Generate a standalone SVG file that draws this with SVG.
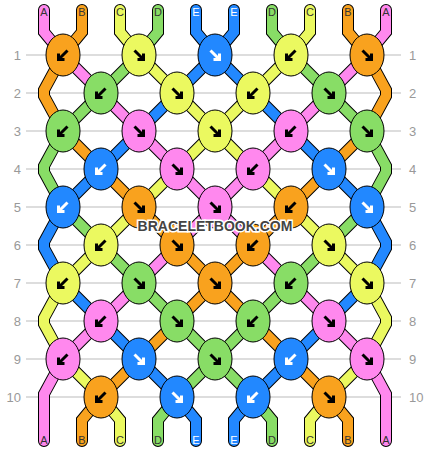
<svg xmlns="http://www.w3.org/2000/svg" xmlns:xlink="http://www.w3.org/1999/xlink" width="430" height="452" viewBox="0 0 430 452">
<style>
.grid line{stroke:#bbb;stroke-width:1}
.num{font-family:"Liberation Sans",Arial,sans-serif;font-size:13px;fill:#999}
.lt{font-family:"Liberation Sans",Arial,sans-serif;font-size:11px;fill:#333;text-anchor:middle}
.lt.w{fill:#fff}
.str{fill:none;stroke-linecap:round;stroke-linejoin:miter;stroke-miterlimit:10}
.out{stroke:#000;stroke-width:12}
.cA{stroke:#FF88EE;stroke-width:10}
.cB{stroke:#F9A21E;stroke-width:10}
.cC{stroke:#EBF960;stroke-width:10}
.cD{stroke:#88DD66;stroke-width:10}
.cE{stroke:#2288FF;stroke-width:10}
.k{stroke:#000;stroke-width:1}
.kA{fill:#FF88EE}.kB{fill:#F9A21E}.kC{fill:#EBF960}.kD{fill:#88DD66}.kE{fill:#2288FF}
.ar{fill:none;stroke:#000;stroke-width:3;stroke-linejoin:miter}
.ar.w{stroke:#fff}
.wm{font-family:"Liberation Sans",Arial,sans-serif;font-size:14px;font-weight:bold;fill:#444;stroke:#fff;stroke-width:3;paint-order:stroke;text-anchor:middle}
</style>
<defs>
<path id="sA" d="M44,10 V32 L63,55 M386,10 V32 L367,55 M63,55 L101,93 M367,55 L329,93 M101,93 L139,131 M329,93 L291,131 M139,131 L177,169 M291,131 L253,169 M177,169 L215,207 M253,169 L215,207 M215,207 L177,245 M215,207 L253,245 M177,245 L139,283 M253,245 L291,283 M139,283 L101,321 M291,283 L329,321 M101,321 L63,359 M329,321 L367,359 M63,359 L44,394 V441 M367,359 L386,394 V441"/>
<path id="sB" d="M82,10 V32 L63,55 M348,10 V32 L367,55 M63,55 L44,90 V96 L63,131 M367,55 L386,90 V96 L367,131 M63,131 L101,169 M367,131 L329,169 M101,169 L139,207 M329,169 L291,207 M139,207 L177,245 M291,207 L253,245 M177,245 L215,283 M253,245 L215,283 M215,283 L177,321 M215,283 L253,321 M177,321 L139,359 M253,321 L291,359 M139,359 L101,397 M291,359 L329,397 M101,397 L82,420 V441 M329,397 L348,420 V441"/>
<path id="sC" d="M120,10 V32 L139,55 M310,10 V32 L291,55 M139,55 L177,93 M291,55 L253,93 M177,93 L215,131 M253,93 L215,131 M215,131 L177,169 M215,131 L253,169 M177,169 L139,207 M253,169 L291,207 M139,207 L101,245 M291,207 L329,245 M101,245 L63,283 M329,245 L367,283 M63,283 L44,318 V324 L63,359 M367,283 L386,318 V324 L367,359 M63,359 L101,397 M367,359 L329,397 M101,397 L120,420 V441 M329,397 L310,420 V441"/>
<path id="sD" d="M158,10 V32 L139,55 M272,10 V32 L291,55 M139,55 L101,93 M291,55 L329,93 M101,93 L63,131 M329,93 L367,131 M63,131 L44,166 V172 L63,207 M367,131 L386,166 V172 L367,207 M63,207 L101,245 M367,207 L329,245 M101,245 L139,283 M329,245 L291,283 M139,283 L177,321 M291,283 L253,321 M177,321 L215,359 M253,321 L215,359 M215,359 L177,397 M215,359 L253,397 M177,397 L158,420 V441 M253,397 L272,420 V441"/>
<path id="sE" d="M196,10 V32 L215,55 M234,10 V32 L215,55 M215,55 L177,93 M215,55 L253,93 M177,93 L139,131 M253,93 L291,131 M139,131 L101,169 M291,131 L329,169 M101,169 L63,207 M329,169 L367,207 M63,207 L44,242 V248 L63,283 M367,207 L386,242 V248 L367,283 M63,283 L101,321 M367,283 L329,321 M101,321 L139,359 M329,321 L291,359 M139,359 L177,397 M291,359 L253,397 M177,397 L196,420 V441 M253,397 L234,420 V441"/>
<path id="se" d="M-4.5,-4.5 L3.5,3.5 M4.5,-1.5 L4.5,4.5 L-1.5,4.5"/>
<path id="sw" d="M4.5,-4.5 L-3.5,3.5 M-4.5,-1.5 L-4.5,4.5 L1.5,4.5"/>
</defs>
<rect width="430" height="452" fill="#fff"/>
<g id="grid" class="grid">
<line x1="26" y1="55" x2="401" y2="55"/><line x1="26" y1="93" x2="401" y2="93"/><line x1="26" y1="131" x2="401" y2="131"/><line x1="26" y1="169" x2="401" y2="169"/><line x1="26" y1="207" x2="401" y2="207"/><line x1="26" y1="245" x2="401" y2="245"/><line x1="26" y1="283" x2="401" y2="283"/><line x1="26" y1="321" x2="401" y2="321"/><line x1="26" y1="359" x2="401" y2="359"/><line x1="26" y1="397" x2="401" y2="397"/>
</g>
<g id="row-numbers" class="num">
<g text-anchor="end">
<text x="21" y="59.5">1</text><text x="21" y="97.5">2</text><text x="21" y="135.5">3</text><text x="21" y="173.5">4</text><text x="21" y="211.5">5</text><text x="21" y="249.5">6</text><text x="21" y="287.5">7</text><text x="21" y="325.5">8</text><text x="21" y="363.5">9</text><text x="21" y="401.5">10</text>
</g>
<g text-anchor="start">
<text x="409" y="59.5">1</text><text x="409" y="97.5">2</text><text x="409" y="135.5">3</text><text x="409" y="173.5">4</text><text x="409" y="211.5">5</text><text x="409" y="249.5">6</text><text x="409" y="287.5">7</text><text x="409" y="325.5">8</text><text x="409" y="363.5">9</text><text x="409" y="401.5">10</text>
</g>
</g>
<g id="connectors" class="str">
<g class="out"><use xlink:href="#sA" href="#sA"/><use xlink:href="#sB" href="#sB"/><use xlink:href="#sC" href="#sC"/><use xlink:href="#sD" href="#sD"/><use xlink:href="#sE" href="#sE"/></g>
<use xlink:href="#sA" href="#sA" class="cA"/>
<use xlink:href="#sB" href="#sB" class="cB"/>
<use xlink:href="#sC" href="#sC" class="cC"/>
<use xlink:href="#sD" href="#sD" class="cD"/>
<use xlink:href="#sE" href="#sE" class="cE"/>
</g>
<g id="strand-labels">
<text class="lt" x="44" y="16">A</text><text class="lt" x="82" y="16">B</text><text class="lt" x="120" y="16">C</text><text class="lt" x="158" y="16">D</text><text class="lt w" x="196" y="16">E</text><text class="lt w" x="234" y="16">E</text><text class="lt" x="272" y="16">D</text><text class="lt" x="310" y="16">C</text><text class="lt" x="348" y="16">B</text><text class="lt" x="386" y="16">A</text>
<text class="lt" x="44" y="444">A</text><text class="lt" x="82" y="444">B</text><text class="lt" x="120" y="444">C</text><text class="lt" x="158" y="444">D</text><text class="lt w" x="196" y="444">E</text><text class="lt w" x="234" y="444">E</text><text class="lt" x="272" y="444">D</text><text class="lt" x="310" y="444">C</text><text class="lt" x="348" y="444">B</text><text class="lt" x="386" y="444">A</text>
</g>
<g id="knots">
<g id="k1-1" transform="translate(63,55)"><ellipse class="k kB" rx="17" ry="21"/><use href="#sw" xlink:href="#sw" class="ar"/></g>
<g id="k1-2" transform="translate(139,55)"><ellipse class="k kC" rx="17" ry="21"/><use href="#se" xlink:href="#se" class="ar"/></g>
<g id="k1-3" transform="translate(215,55)"><ellipse class="k kE" rx="17" ry="21"/><use href="#se" xlink:href="#se" class="ar w"/></g>
<g id="k1-4" transform="translate(291,55)"><ellipse class="k kC" rx="17" ry="21"/><use href="#sw" xlink:href="#sw" class="ar"/></g>
<g id="k1-5" transform="translate(367,55)"><ellipse class="k kB" rx="17" ry="21"/><use href="#se" xlink:href="#se" class="ar"/></g>
<g id="k2-1" transform="translate(101,93)"><ellipse class="k kD" rx="17" ry="21"/><use href="#sw" xlink:href="#sw" class="ar"/></g>
<g id="k2-2" transform="translate(177,93)"><ellipse class="k kC" rx="17" ry="21"/><use href="#se" xlink:href="#se" class="ar"/></g>
<g id="k2-3" transform="translate(253,93)"><ellipse class="k kC" rx="17" ry="21"/><use href="#sw" xlink:href="#sw" class="ar"/></g>
<g id="k2-4" transform="translate(329,93)"><ellipse class="k kD" rx="17" ry="21"/><use href="#se" xlink:href="#se" class="ar"/></g>
<g id="k3-1" transform="translate(63,131)"><ellipse class="k kD" rx="17" ry="21"/><use href="#sw" xlink:href="#sw" class="ar"/></g>
<g id="k3-2" transform="translate(139,131)"><ellipse class="k kA" rx="17" ry="21"/><use href="#se" xlink:href="#se" class="ar"/></g>
<g id="k3-3" transform="translate(215,131)"><ellipse class="k kC" rx="17" ry="21"/><use href="#se" xlink:href="#se" class="ar"/></g>
<g id="k3-4" transform="translate(291,131)"><ellipse class="k kA" rx="17" ry="21"/><use href="#sw" xlink:href="#sw" class="ar"/></g>
<g id="k3-5" transform="translate(367,131)"><ellipse class="k kD" rx="17" ry="21"/><use href="#se" xlink:href="#se" class="ar"/></g>
<g id="k4-1" transform="translate(101,169)"><ellipse class="k kE" rx="17" ry="21"/><use href="#sw" xlink:href="#sw" class="ar w"/></g>
<g id="k4-2" transform="translate(177,169)"><ellipse class="k kA" rx="17" ry="21"/><use href="#se" xlink:href="#se" class="ar"/></g>
<g id="k4-3" transform="translate(253,169)"><ellipse class="k kA" rx="17" ry="21"/><use href="#sw" xlink:href="#sw" class="ar"/></g>
<g id="k4-4" transform="translate(329,169)"><ellipse class="k kE" rx="17" ry="21"/><use href="#se" xlink:href="#se" class="ar w"/></g>
<g id="k5-1" transform="translate(63,207)"><ellipse class="k kE" rx="17" ry="21"/><use href="#sw" xlink:href="#sw" class="ar w"/></g>
<g id="k5-2" transform="translate(139,207)"><ellipse class="k kB" rx="17" ry="21"/><use href="#se" xlink:href="#se" class="ar"/></g>
<g id="k5-3" transform="translate(215,207)"><ellipse class="k kA" rx="17" ry="21"/><use href="#se" xlink:href="#se" class="ar"/></g>
<g id="k5-4" transform="translate(291,207)"><ellipse class="k kB" rx="17" ry="21"/><use href="#sw" xlink:href="#sw" class="ar"/></g>
<g id="k5-5" transform="translate(367,207)"><ellipse class="k kE" rx="17" ry="21"/><use href="#se" xlink:href="#se" class="ar w"/></g>
<g id="k6-1" transform="translate(101,245)"><ellipse class="k kC" rx="17" ry="21"/><use href="#sw" xlink:href="#sw" class="ar"/></g>
<g id="k6-2" transform="translate(177,245)"><ellipse class="k kB" rx="17" ry="21"/><use href="#se" xlink:href="#se" class="ar"/></g>
<g id="k6-3" transform="translate(253,245)"><ellipse class="k kB" rx="17" ry="21"/><use href="#sw" xlink:href="#sw" class="ar"/></g>
<g id="k6-4" transform="translate(329,245)"><ellipse class="k kC" rx="17" ry="21"/><use href="#se" xlink:href="#se" class="ar"/></g>
<g id="k7-1" transform="translate(63,283)"><ellipse class="k kC" rx="17" ry="21"/><use href="#sw" xlink:href="#sw" class="ar"/></g>
<g id="k7-2" transform="translate(139,283)"><ellipse class="k kD" rx="17" ry="21"/><use href="#se" xlink:href="#se" class="ar"/></g>
<g id="k7-3" transform="translate(215,283)"><ellipse class="k kB" rx="17" ry="21"/><use href="#se" xlink:href="#se" class="ar"/></g>
<g id="k7-4" transform="translate(291,283)"><ellipse class="k kD" rx="17" ry="21"/><use href="#sw" xlink:href="#sw" class="ar"/></g>
<g id="k7-5" transform="translate(367,283)"><ellipse class="k kC" rx="17" ry="21"/><use href="#se" xlink:href="#se" class="ar"/></g>
<g id="k8-1" transform="translate(101,321)"><ellipse class="k kA" rx="17" ry="21"/><use href="#sw" xlink:href="#sw" class="ar"/></g>
<g id="k8-2" transform="translate(177,321)"><ellipse class="k kD" rx="17" ry="21"/><use href="#se" xlink:href="#se" class="ar"/></g>
<g id="k8-3" transform="translate(253,321)"><ellipse class="k kD" rx="17" ry="21"/><use href="#sw" xlink:href="#sw" class="ar"/></g>
<g id="k8-4" transform="translate(329,321)"><ellipse class="k kA" rx="17" ry="21"/><use href="#se" xlink:href="#se" class="ar"/></g>
<g id="k9-1" transform="translate(63,359)"><ellipse class="k kA" rx="17" ry="21"/><use href="#sw" xlink:href="#sw" class="ar"/></g>
<g id="k9-2" transform="translate(139,359)"><ellipse class="k kE" rx="17" ry="21"/><use href="#se" xlink:href="#se" class="ar w"/></g>
<g id="k9-3" transform="translate(215,359)"><ellipse class="k kD" rx="17" ry="21"/><use href="#se" xlink:href="#se" class="ar"/></g>
<g id="k9-4" transform="translate(291,359)"><ellipse class="k kE" rx="17" ry="21"/><use href="#sw" xlink:href="#sw" class="ar w"/></g>
<g id="k9-5" transform="translate(367,359)"><ellipse class="k kA" rx="17" ry="21"/><use href="#se" xlink:href="#se" class="ar"/></g>
<g id="k10-1" transform="translate(101,397)"><ellipse class="k kB" rx="17" ry="21"/><use href="#sw" xlink:href="#sw" class="ar"/></g>
<g id="k10-2" transform="translate(177,397)"><ellipse class="k kE" rx="17" ry="21"/><use href="#se" xlink:href="#se" class="ar w"/></g>
<g id="k10-3" transform="translate(253,397)"><ellipse class="k kE" rx="17" ry="21"/><use href="#sw" xlink:href="#sw" class="ar w"/></g>
<g id="k10-4" transform="translate(329,397)"><ellipse class="k kB" rx="17" ry="21"/><use href="#se" xlink:href="#se" class="ar"/></g>
</g>
<text id="watermark" class="wm" x="215" y="231">BRACELETBOOK.COM</text>
</svg>
